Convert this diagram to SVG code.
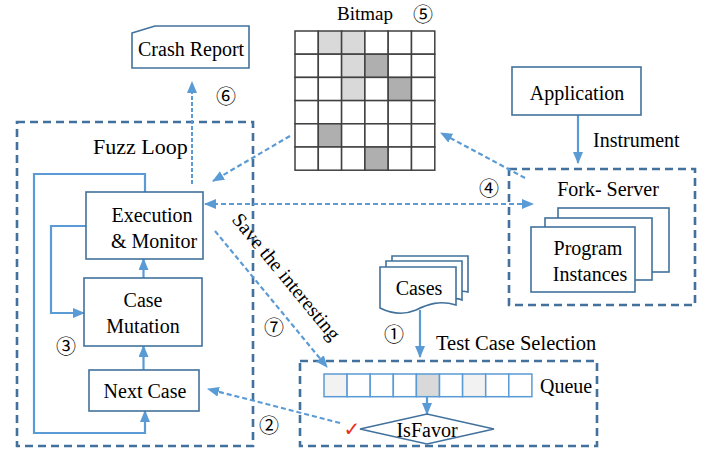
<svg xmlns="http://www.w3.org/2000/svg" width="706" height="451" viewBox="0 0 706 451" font-family="Liberation Serif, Times New Roman, serif">
<defs>
<style>
.t{font-family:'Liberation Serif','Times New Roman','DejaVu Serif',serif;font-size:20px;fill:#000}
.c{font-family:'Noto Sans CJK SC','DejaVu Sans',sans-serif;font-size:20px;fill:#000}
.grp{fill:none;stroke:#41719C;stroke-width:2.6;stroke-dasharray:8 5}
.box{fill:#fff;stroke:#41719C;stroke-width:1.6}
.sol{fill:none;stroke:#5B9BD5;stroke-width:2.2}
.dsh{fill:none;stroke:#5B9BD5;stroke-width:2.2;stroke-dasharray:5 3}
.dot{fill:none;stroke:#5B9BD5;stroke-width:2;stroke-dasharray:4 2}
.cell{stroke:#404040;stroke-width:1.5}
.q{stroke:#5B9BD5;stroke-width:1.5}
</style>
<marker id="ah" viewBox="0 0 12 10" refX="11" refY="5" markerWidth="12" markerHeight="10" markerUnits="userSpaceOnUse" orient="auto-start-reverse">
<path d="M0,0 L12,5 L0,10 Z" fill="#5B9BD5"/>
</marker>
</defs>

<!-- containers -->
<rect id="fuzz-loop" class="grp" x="17" y="122" width="236" height="324"/>
<text class="t" x="93" y="154" style="font-size:22px">Fuzz Loop</text>
<g id="fork-server">
<rect class="grp" x="509" y="169" width="186" height="136"/>
<text class="t" x="608" y="196" text-anchor="middle">Fork- Server</text>
</g>
<g id="test-case-selection">
<rect class="grp" x="300" y="361" width="297" height="85"/>
<text class="t" x="436" y="350" style="font-size:20.5px">Test Case Selection</text>
</g>

<!-- connectors -->
<g id="connectors">
<path class="sol" d="M145,192 V174 H34 V433 H145 V411" marker-end="url(#ah)"/>
<path class="sol" d="M86,226 H51 V313 H84" marker-end="url(#ah)"/>
<path class="sol" d="M143.5,278 V259" marker-end="url(#ah)"/>
<path class="sol" d="M143.5,370 V346" marker-end="url(#ah)"/>
<path class="sol" d="M578,115 V163" marker-end="url(#ah)"/>
<path class="sol" d="M420,310 V357" marker-end="url(#ah)"/>
<path class="sol" d="M427,397 V414" marker-end="url(#ah)"/>
<path class="dot" d="M192,184 V82" marker-end="url(#ah)"/>
<path class="dsh" d="M290,136 L213,181" marker-end="url(#ah)"/>
<path class="dsh" d="M525,178 L441,133" marker-end="url(#ah)"/>
<path class="dsh" d="M205,204 H533" marker-start="url(#ah)" marker-end="url(#ah)"/>
<path class="dsh" d="M215,231 L327,367" marker-end="url(#ah)"/>
<path class="dsh" d="M340,423 L208,389" marker-end="url(#ah)"/>
</g>

<!-- labels -->
<text class="t" transform="translate(231,220) rotate(50.5)">Save the interesting</text>
<text class="t" x="593" y="147">Instrument</text>
<text class="c" x="226" y="104" text-anchor="middle">⑥</text>
<text class="c" x="423" y="22" text-anchor="middle">⑤</text>
<text class="c" x="489" y="196" text-anchor="middle">④</text>
<text class="c" x="66" y="354" text-anchor="middle">③</text>
<text class="c" x="269" y="433" text-anchor="middle">②</text>
<text class="c" x="394" y="342" text-anchor="middle">①</text>
<text class="c" x="274" y="335" text-anchor="middle">⑦</text>

<!-- nodes -->
<g id="crash-report">
<path class="box" d="M132,33 L155,26 H249 V68 H132 Z"/>
<text class="t" x="138" y="56">Crash Report</text>
</g>

<g id="execution-monitor">
<rect class="box" x="86" y="192" width="117" height="67"/>
<text class="t" x="152" y="222" text-anchor="middle">Execution</text>
<text class="t" x="154" y="248" text-anchor="middle">&amp; Monitor</text>
</g>

<g id="case-mutation">
<rect class="box" x="84" y="278" width="118" height="68"/>
<text class="t" x="143" y="307" text-anchor="middle">Case</text>
<text class="t" x="143" y="333" text-anchor="middle">Mutation</text>
</g>

<g id="next-case">
<rect class="box" x="89" y="370" width="110" height="41"/>
<text class="t" x="145" y="398" text-anchor="middle">Next Case</text>
</g>

<g id="bitmap">
<text class="t" x="337" y="20" style="font-size:19px">Bitmap</text>
<g class="cell" fill="#fff">
<rect x="295" y="31" width="23.3" height="23.2"/><rect x="318.3" y="31" width="23.3" height="23.2" fill="#D9D9D9"/><rect x="341.6" y="31" width="23.3" height="23.2" fill="#D9D9D9"/><rect x="364.9" y="31" width="23.3" height="23.2"/><rect x="388.2" y="31" width="23.3" height="23.2"/><rect x="411.5" y="31" width="23.3" height="23.2"/>
<rect x="295" y="54.2" width="23.3" height="23.2"/><rect x="318.3" y="54.2" width="23.3" height="23.2"/><rect x="341.6" y="54.2" width="23.3" height="23.2" fill="#D9D9D9"/><rect x="364.9" y="54.2" width="23.3" height="23.2" fill="#AFAFAF"/><rect x="388.2" y="54.2" width="23.3" height="23.2"/><rect x="411.5" y="54.2" width="23.3" height="23.2"/>
<rect x="295" y="77.4" width="23.3" height="23.2"/><rect x="318.3" y="77.4" width="23.3" height="23.2"/><rect x="341.6" y="77.4" width="23.3" height="23.2" fill="#D9D9D9"/><rect x="364.9" y="77.4" width="23.3" height="23.2"/><rect x="388.2" y="77.4" width="23.3" height="23.2" fill="#AFAFAF"/><rect x="411.5" y="77.4" width="23.3" height="23.2"/>
<rect x="295" y="100.6" width="23.3" height="23.2"/><rect x="318.3" y="100.6" width="23.3" height="23.2"/><rect x="341.6" y="100.6" width="23.3" height="23.2"/><rect x="364.9" y="100.6" width="23.3" height="23.2"/><rect x="388.2" y="100.6" width="23.3" height="23.2"/><rect x="411.5" y="100.6" width="23.3" height="23.2"/>
<rect x="295" y="123.8" width="23.3" height="23.2"/><rect x="318.3" y="123.8" width="23.3" height="23.2" fill="#AFAFAF"/><rect x="341.6" y="123.8" width="23.3" height="23.2"/><rect x="364.9" y="123.8" width="23.3" height="23.2"/><rect x="388.2" y="123.8" width="23.3" height="23.2"/><rect x="411.5" y="123.8" width="23.3" height="23.2"/>
<rect x="295" y="147" width="23.3" height="23.2"/><rect x="318.3" y="147" width="23.3" height="23.2"/><rect x="341.6" y="147" width="23.3" height="23.2"/><rect x="364.9" y="147" width="23.3" height="23.2" fill="#AFAFAF"/><rect x="388.2" y="147" width="23.3" height="23.2"/><rect x="411.5" y="147" width="23.3" height="23.2"/>
</g>
</g>

<g id="application">
<rect class="box" x="512" y="67" width="129" height="48"/>
<text class="t" x="577" y="100" text-anchor="middle">Application</text>
</g>

<g id="program-instances">
<rect class="box" x="558" y="208" width="111" height="64"/>
<rect class="box" x="545" y="218" width="107" height="62"/>
<rect class="box" x="531" y="227" width="104" height="65"/>
<text class="t" x="588" y="255" text-anchor="middle">Program</text>
<text class="t" x="590" y="281" text-anchor="middle">Instances</text>
</g>

<g id="cases">
<path class="box" d="M392,256 H468 V292 C460,290 458,292 455,293 V293 H392 Z"/>
<path class="box" d="M386,261 H462 V300 C455,297 450,299 446,301 H386 Z"/>
<path class="box" d="M380,267 H456 V305 C440,300 428,304 416,310 C402,316 390,313 380,308 Z"/>
<text class="t" x="419" y="295" text-anchor="middle">Cases</text>
</g>

<g id="queue">
<g class="q" fill="#fff">
<rect x="324" y="374" width="23.1" height="22.7" fill="#F2F2F2"/><rect x="347.1" y="374" width="23.1" height="22.7"/><rect x="370.2" y="374" width="23.1" height="22.7"/><rect x="393.3" y="374" width="23.1" height="22.7"/><rect x="416.4" y="374" width="23.1" height="22.7" fill="#D9D9D9"/><rect x="439.5" y="374" width="23.1" height="22.7"/><rect x="462.6" y="374" width="23.1" height="22.7" fill="#F2F2F2"/><rect x="485.7" y="374" width="23.1" height="22.7"/><rect x="508.8" y="374" width="23.1" height="22.7"/>
</g>
<text class="t" x="540" y="393">Queue</text>
</g>

<g id="isfavor">
<path d="M360,429 L427,414 L494,429 L427,444 Z" fill="#fff" stroke="#41719C" stroke-width="1.6"/>
<text class="t" x="427" y="437" text-anchor="middle">IsFavor</text>
<text x="352" y="436" text-anchor="middle" style="font-family:'DejaVu Sans',sans-serif;font-size:20px;fill:#E8341C">✓</text>
</g>
</svg>
